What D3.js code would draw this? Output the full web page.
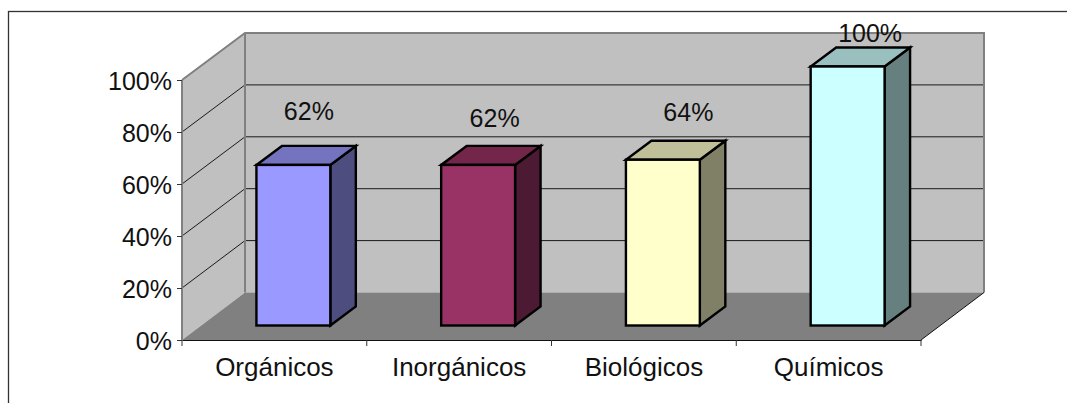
<!DOCTYPE html>
<html><head><meta charset="utf-8">
<script src="https://cdn.jsdelivr.net/npm/d3@7"></script>
<style>html,body{margin:0;padding:0;background:#fff;overflow:hidden}svg{display:block}
text{font-family:"Liberation Sans",Arial,sans-serif;fill:#111}</style></head><body>
<script>
const categories = ["Orgánicos","Inorgánicos","Biológicos","Químicos"];
const values = [62,62,64,100];
const valueLabels = ["62%","62%","64%","100%"];
const tickValues = [0,20,40,60,80,100];
const faceColors = ["#9999FF","#993366","#FFFFCC","#CCFFFF"];
const topColors  = ["#7373BF","#732649","#BFBF99","#99BFBF"];
const sideColors = ["#4D4D80","#4D1A33","#808066","#668080"];
const labelShift = [[15.5,-45],[16.5,-38],[25.5,-39],[22.5,-24.5]];

const W=1067,H=403;
const svg=d3.select("body").append("svg").attr("width",W).attr("height",H);
const x=d3.scaleBand().domain(categories).range([182,921]);
const yFront=d3.scaleLinear().domain([0,100]).range([340,80]);
const yBack=d3.scaleLinear().domain([0,100]).range([292.5,33]);
const yBar=d3.scaleLinear().domain([0,100]).range([325.5,66.5]);
const depth=[63,-47.5], barDepth=[25.5,-19];
const barW=x.bandwidth()*0.4, barShift=19+x.bandwidth()*0.3;
const poly=p=>p.map(q=>q.join(",")).join(" ");

svg.append("rect").attr("x",8.5).attr("y",11.5).attr("width",W+20).attr("height",H+20)
  .attr("fill","#fff").attr("stroke","#333").attr("stroke-width",1.3);

const x0=182,x1=921,bx0=x0+depth[0],bx1=x1+depth[0];
svg.append("polygon").attr("points",poly([[bx0,yBack(0)],[bx1,yBack(0)],[bx1,yBack(100)],[bx0,yBack(100)]])).attr("fill","#C0C0C0");
svg.append("polygon").attr("points",poly([[x0,yFront(0)],[bx0,yBack(0)],[bx0,yBack(100)],[x0,yFront(100)]])).attr("fill","#C0C0C0");
svg.append("polygon").attr("points",poly([[x0,yFront(0)],[x1,yFront(0)],[bx1,yBack(0)],[bx0,yBack(0)]])).attr("fill","#808080");

// gridlines
const grid=svg.append("g").attr("fill","none").attr("stroke","#1a1a1a").attr("stroke-width",1);
tickValues.filter(t=>t>0&&t<100).forEach(t=>{
  grid.append("polyline").attr("points",poly([[x0,yFront(t)],[bx0,yBack(t)],[bx1,yBack(t)]]));
});
// wall outlines
svg.append("polyline").attr("fill","none").attr("stroke","#808080").attr("stroke-width",2)
  .attr("points",poly([[x0,yFront(100)],[bx0,yBack(100)],[bx1,yBack(100)],[bx1,yBack(0)]]));
svg.append("line").attr("stroke","#808080").attr("stroke-width",2)
  .attr("x1",bx0).attr("x2",bx0).attr("y1",yBack(100)).attr("y2",yBack(0));
svg.append("line").attr("stroke","#808080").attr("stroke-width",2)
  .attr("x1",x0).attr("x2",x0).attr("y1",yFront(100)).attr("y2",yFront(0));
svg.append("line").attr("stroke","#111").attr("stroke-width",1)
  .attr("x1",x1).attr("x2",bx1).attr("y1",yFront(0)).attr("y2",yBack(0));

// axes
const axisY=d3.axisLeft(yFront).tickValues(tickValues).tickFormat(d=>d+"%").tickSize(5).tickPadding(5);
const gy=svg.append("g").attr("transform",`translate(${x0},0)`).call(axisY);
gy.select(".domain").remove();
gy.selectAll("line").attr("stroke","#333");
gy.selectAll("text").attr("font-size",25).attr("dy","0.38em").style("font-family",'"Liberation Sans",Arial,sans-serif').attr("fill","#111");

const axisX=d3.axisBottom(x).tickSize(0).tickPadding(17.5);
const gx=svg.append("g").attr("transform",`translate(0,${yFront(0)})`).call(axisX);
gx.select(".domain").attr("stroke","#111").attr("stroke-width",1.2);
gx.selectAll("text").attr("font-size",26).attr("dy","0.71em").style("font-family",'"Liberation Sans",Arial,sans-serif').attr("fill","#111");
const edges=[...categories.map(c=>x(c)),x1];
svg.append("g").selectAll("line").data(edges).join("line")
  .attr("x1",d=>d).attr("x2",d=>d).attr("y1",yFront(0)).attr("y2",yFront(0)+6).attr("stroke","#333");

// bars
const bars=svg.append("g").selectAll("g").data(categories).join("g")
  .attr("stroke","#000").attr("stroke-width",2.4).attr("stroke-linejoin","miter");
bars.each(function(c,i){
  const g=d3.select(this), l=x(c)+barShift, r=l+barW, b=yBar(0), t=yBar(values[i]);
  const [dx,dy]=barDepth;
  g.append("polygon").attr("fill",sideColors[i]).attr("points",poly([[r,b],[r+dx,b+dy],[r+dx,t+dy],[r,t]]));
  g.append("polygon").attr("fill",topColors[i]).attr("points",poly([[l,t],[r,t],[r+dx,t+dy],[l+dx,t+dy]]));
  g.append("rect").attr("fill",faceColors[i]).attr("x",l).attr("y",t).attr("width",barW).attr("height",b-t);
});

// value labels
svg.append("g").selectAll("text").data(categories).join("text")
  .attr("text-anchor","middle").attr("font-size",25)
  .attr("x",(c,i)=>x(c)+barShift+barW/2+labelShift[i][0])
  .attr("y",(c,i)=>yBar(values[i])+labelShift[i][1])
  .text((c,i)=>valueLabels[i]);
</script></body></html>
